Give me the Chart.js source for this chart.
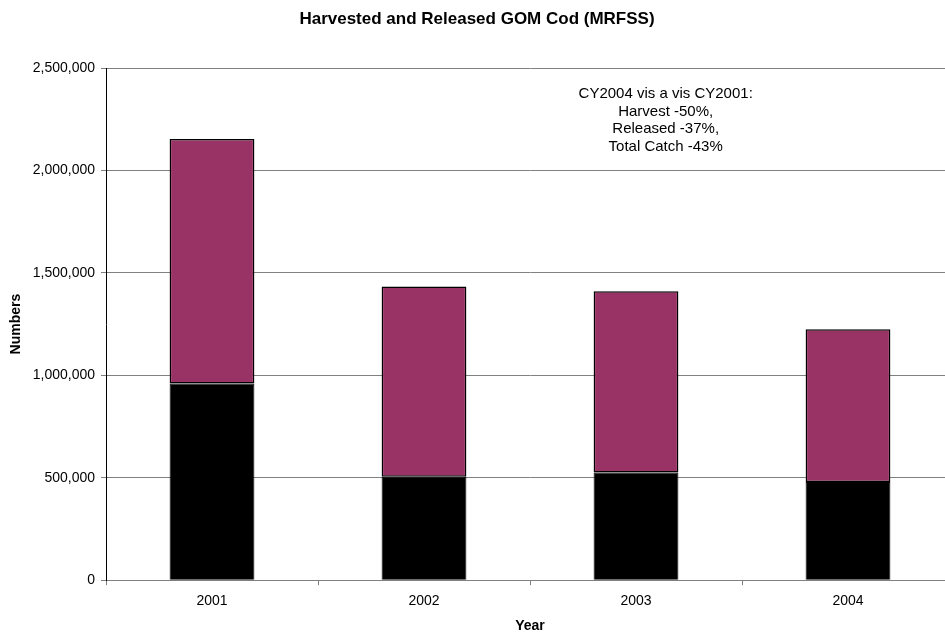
<!DOCTYPE html>
<html>
<head>
<meta charset="utf-8">
<script src="https://cdn.jsdelivr.net/npm/chart.js@4/dist/chart.umd.min.js"></script>
<style>
  html, body { margin: 0; padding: 0; background: #fff; overflow: hidden; }
</style>
</head>
<body>
<canvas id="codChart" width="960" height="636"></canvas>
<script>
// values
var years = ["2001", "2002", "2003", "2004"];
var harvested = [960000, 505000, 526000, 479000];
var released = [1193000, 929000, 884000, 746000];
var yTicks = [0, 500000, 1000000, 1500000, 2000000, 2500000];
var noteLines = ["CY2004 vis a vis CY2001:", "Harvest -50%,", "Released -37%,", "Total Catch -43%"];

var FONT = "'Liberation Sans', Arial, sans-serif";

// text box in the upper right of the plot
var notePlugin = {
  id: "note",
  afterDraw: function(chart){
    var ctx = chart.ctx, area = chart.chartArea;
    ctx.save();
    ctx.font = "15px " + FONT;
    ctx.fillStyle = "#000";
    ctx.textAlign = "center";
    ctx.textBaseline = "middle";
    var cx = area.left + (area.right - area.left) * 0.66;
    for (var i = 0; i < noteLines.length; i++) {
      ctx.fillText(noteLines[i], cx, area.top + 26 + i * 17.5);
    }
    ctx.restore();
  }
};

var ctx = document.getElementById("codChart").getContext("2d");
var chart = new Chart(ctx, {
  type: "bar",
  data: {
    labels: years,
    datasets: [
      {
        label: "Harvested",
        data: harvested,
        backgroundColor: "#000000",
        borderColor: "#000000",
        borderWidth: 1
      },
      {
        label: "Released",
        data: released,
        backgroundColor: "#993366",
        borderColor: "#000000",
        borderWidth: 1.5,
        borderSkipped: false
      }
    ]
  },
  options: {
    responsive: false,
    animation: false,
    categoryPercentage: 1,
    barPercentage: 0.4,
    layout: { padding: { left: 0, right: 6, top: 0, bottom: 1 } },
    plugins: {
      legend: { display: false },
      tooltip: { enabled: false },
      title: {
        display: true,
        text: "Harvested and Released GOM Cod (MRFSS)",
        color: "#000",
        font: { family: FONT, size: 17, weight: "bold" },
        padding: { top: 9.4, bottom: 38.2 }
      }
    },
    scales: {
      x: {
        stacked: true,
        grid: { offset: true, drawOnChartArea: false, tickLength: 5, color: "#808080" },
        border: { color: "#808080" },
        ticks: { color: "#000", font: { family: FONT, size: 14, lineHeight: 1 }, padding: 9, maxRotation: 0 },
        title: {
          display: true,
          text: "Year",
          color: "#000",
          font: { family: FONT, size: 14, weight: "bold" },
          padding: { top: 1, bottom: 0 }
        }
      },
      y: {
        stacked: true,
        min: 0,
        max: 2500000,
        afterFit: function(scale){ scale.width = 106; },
        afterBuildTicks: function(scale){
          scale.ticks = yTicks.map(function(v){ return { value: v }; });
        },
        grid: { color: "#808080", tickLength: 5 },
        border: { color: "#000" },
        ticks: {
          color: "#000",
          font: { family: FONT, size: 14 },
          padding: 6,
          callback: function(v){ return Number(v).toLocaleString("en-US"); }
        },
        title: {
          display: true,
          text: "Numbers",
          color: "#000",
          font: { family: FONT, size: 14, weight: "bold" },
          padding: { top: 8, bottom: 0 }
        }
      }
    }
  },
  plugins: [notePlugin]
});
</script>
</body>
</html>
